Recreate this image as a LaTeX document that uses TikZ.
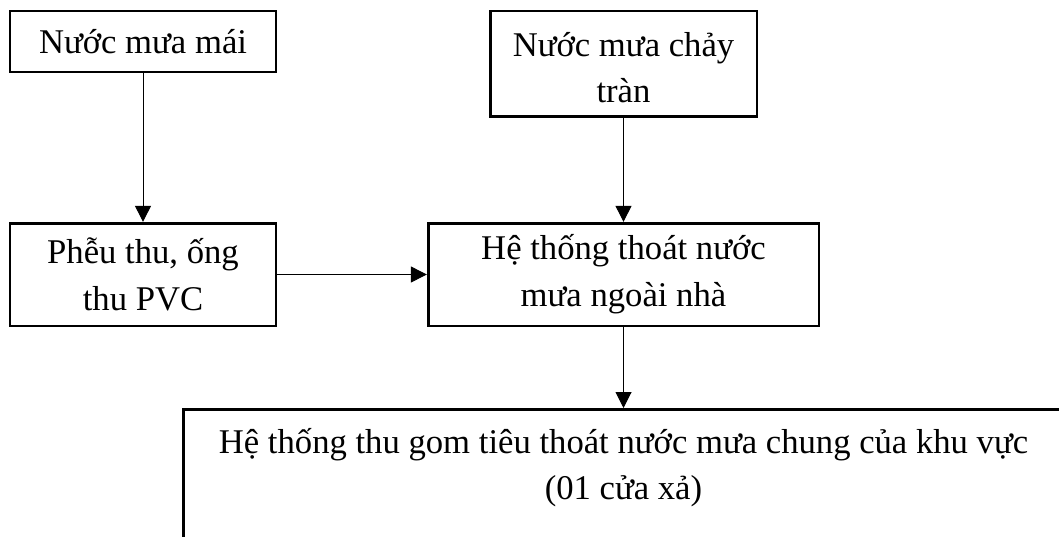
\documentclass[tikz,border=0pt]{standalone}
\usepackage{fontspec}
\setmainfont{Liberation Serif}
\usetikzlibrary{arrows.meta}
\tikzstyle{block}=[draw, line width=2pt, align=center, inner sep=0pt, font=\fontsize{26}{35}\selectfont]
\tikzstyle{flow}=[line width=0.75pt, -{Triangle[length=12pt, width=12pt]}]
\newcommand{\block}{\node[block]}

\begin{document}
\begin{tikzpicture}[x=0.75pt, y=-0.75pt, every edge/.style={ draw, flow } ]
\useasboundingbox (0,0) rectangle (1059,536);
\clip (0,0) rectangle (1059,536);
\block (mai) at (143,41.5) [minimum width=199.5pt, minimum height=45.75pt]{Nước mưa mái};
\block (tran) at (623.5,63.5) [minimum width=200pt, minimum height=79pt, text height=59pt]{Nước mưa chảy\\tràn};
\block (pheu) at (143,274.5) [minimum width=199.5pt, minimum height=77pt]{Phễu thu, ống\\thu PVC};
\block (ngoai) at (623.5,274.5) [minimum width=293pt, minimum height=77pt]{Hệ thống thoát nước\\mưa ngoài nhà};
\block (chung) at (623.5,408) [anchor=north, minimum width=660pt, minimum height=105pt, text depth=60pt, inner ysep=14pt]{Hệ thống thu gom tiêu thoát nước mưa chung của khu vực\\(01 cửa xả)};
\path
(mai) edge (pheu)
(tran) edge (ngoai)
(pheu) edge (ngoai)
(ngoai) edge (chung)
;
\end{tikzpicture}
\end{document}
